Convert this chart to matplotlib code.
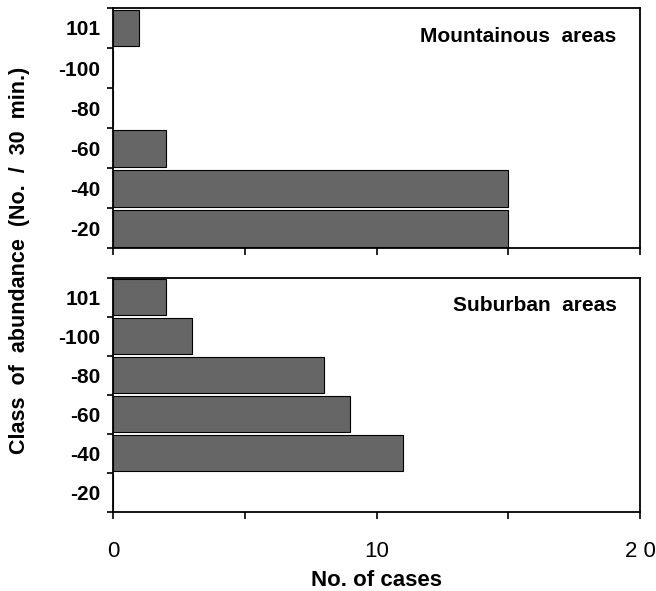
import numpy as np
import matplotlib
matplotlib.use("Agg")
import matplotlib.pyplot as plt

plt.rcParams['font.family'] = ['Liberation Sans', 'DejaVu Sans']

# abundance classes, bottom to top
classes = ['-20', '-40', '-60', '-80', '-100', '101']
mountain_cases = [15, 15, 2, 0, 0, 1]
suburban_cases = [0, 11, 9, 8, 3, 2]
panel_titles = ['Mountainous  areas', 'Suburban  areas']

bar_color = '#666666'

fig = plt.figure(figsize=(6.56, 5.91), dpi=100)
ax_top = fig.add_axes([0.172, 0.580, 0.804, 0.4065])
ax_bot = fig.add_axes([0.172, 0.134, 0.804, 0.396])

y = np.arange(len(classes))
for ax, vals, title in [(ax_top, mountain_cases, panel_titles[0]),
                        (ax_bot, suburban_cases, panel_titles[1])]:
    ax.barh(y, vals, height=0.92, color=bar_color, edgecolor='black', linewidth=0.8)
    ax.set_xlim(0, 20)
    ax.set_ylim(-0.5, len(classes) - 0.5)
    # ticks at class boundaries, labels at centres
    ax.set_yticks(np.arange(-0.5, len(classes)), labels=[])
    ax.set_yticks(y, labels=classes, minor=True)
    ax.tick_params(axis='y', which='major', length=4, width=1.2, direction='out')
    ax.tick_params(axis='y', which='minor', length=0, pad=9, labelsize=15)
    for lab in ax.get_yticklabels(minor=True):
        lab.set_fontweight('bold')
    ax.set_xticks([0, 5, 10, 15, 20])
    ax.tick_params(axis='x', length=5, width=1.2, direction='out')
    for s in ax.spines.values():
        s.set_linewidth(1.3)
    ax.text(0.955, 0.88, title, transform=ax.transAxes, ha='right', va='center',
            fontsize=15, fontweight='bold')

ax_top.set_xticklabels([])
ax_bot.set_xticklabels(['0', '', '10', '', '2 0'], fontsize=16)
ax_bot.tick_params(axis='x', pad=16)
ax_bot.set_xlabel('No. of cases', fontsize=16, fontweight='bold', labelpad=6)

fig.text(0.03, 0.56, 'Class  of  abundance  (No.  /  30  min.)', rotation=90,
         ha='center', va='center', fontsize=15.5, fontweight='bold')

fig.savefig('out.png', dpi=100)
